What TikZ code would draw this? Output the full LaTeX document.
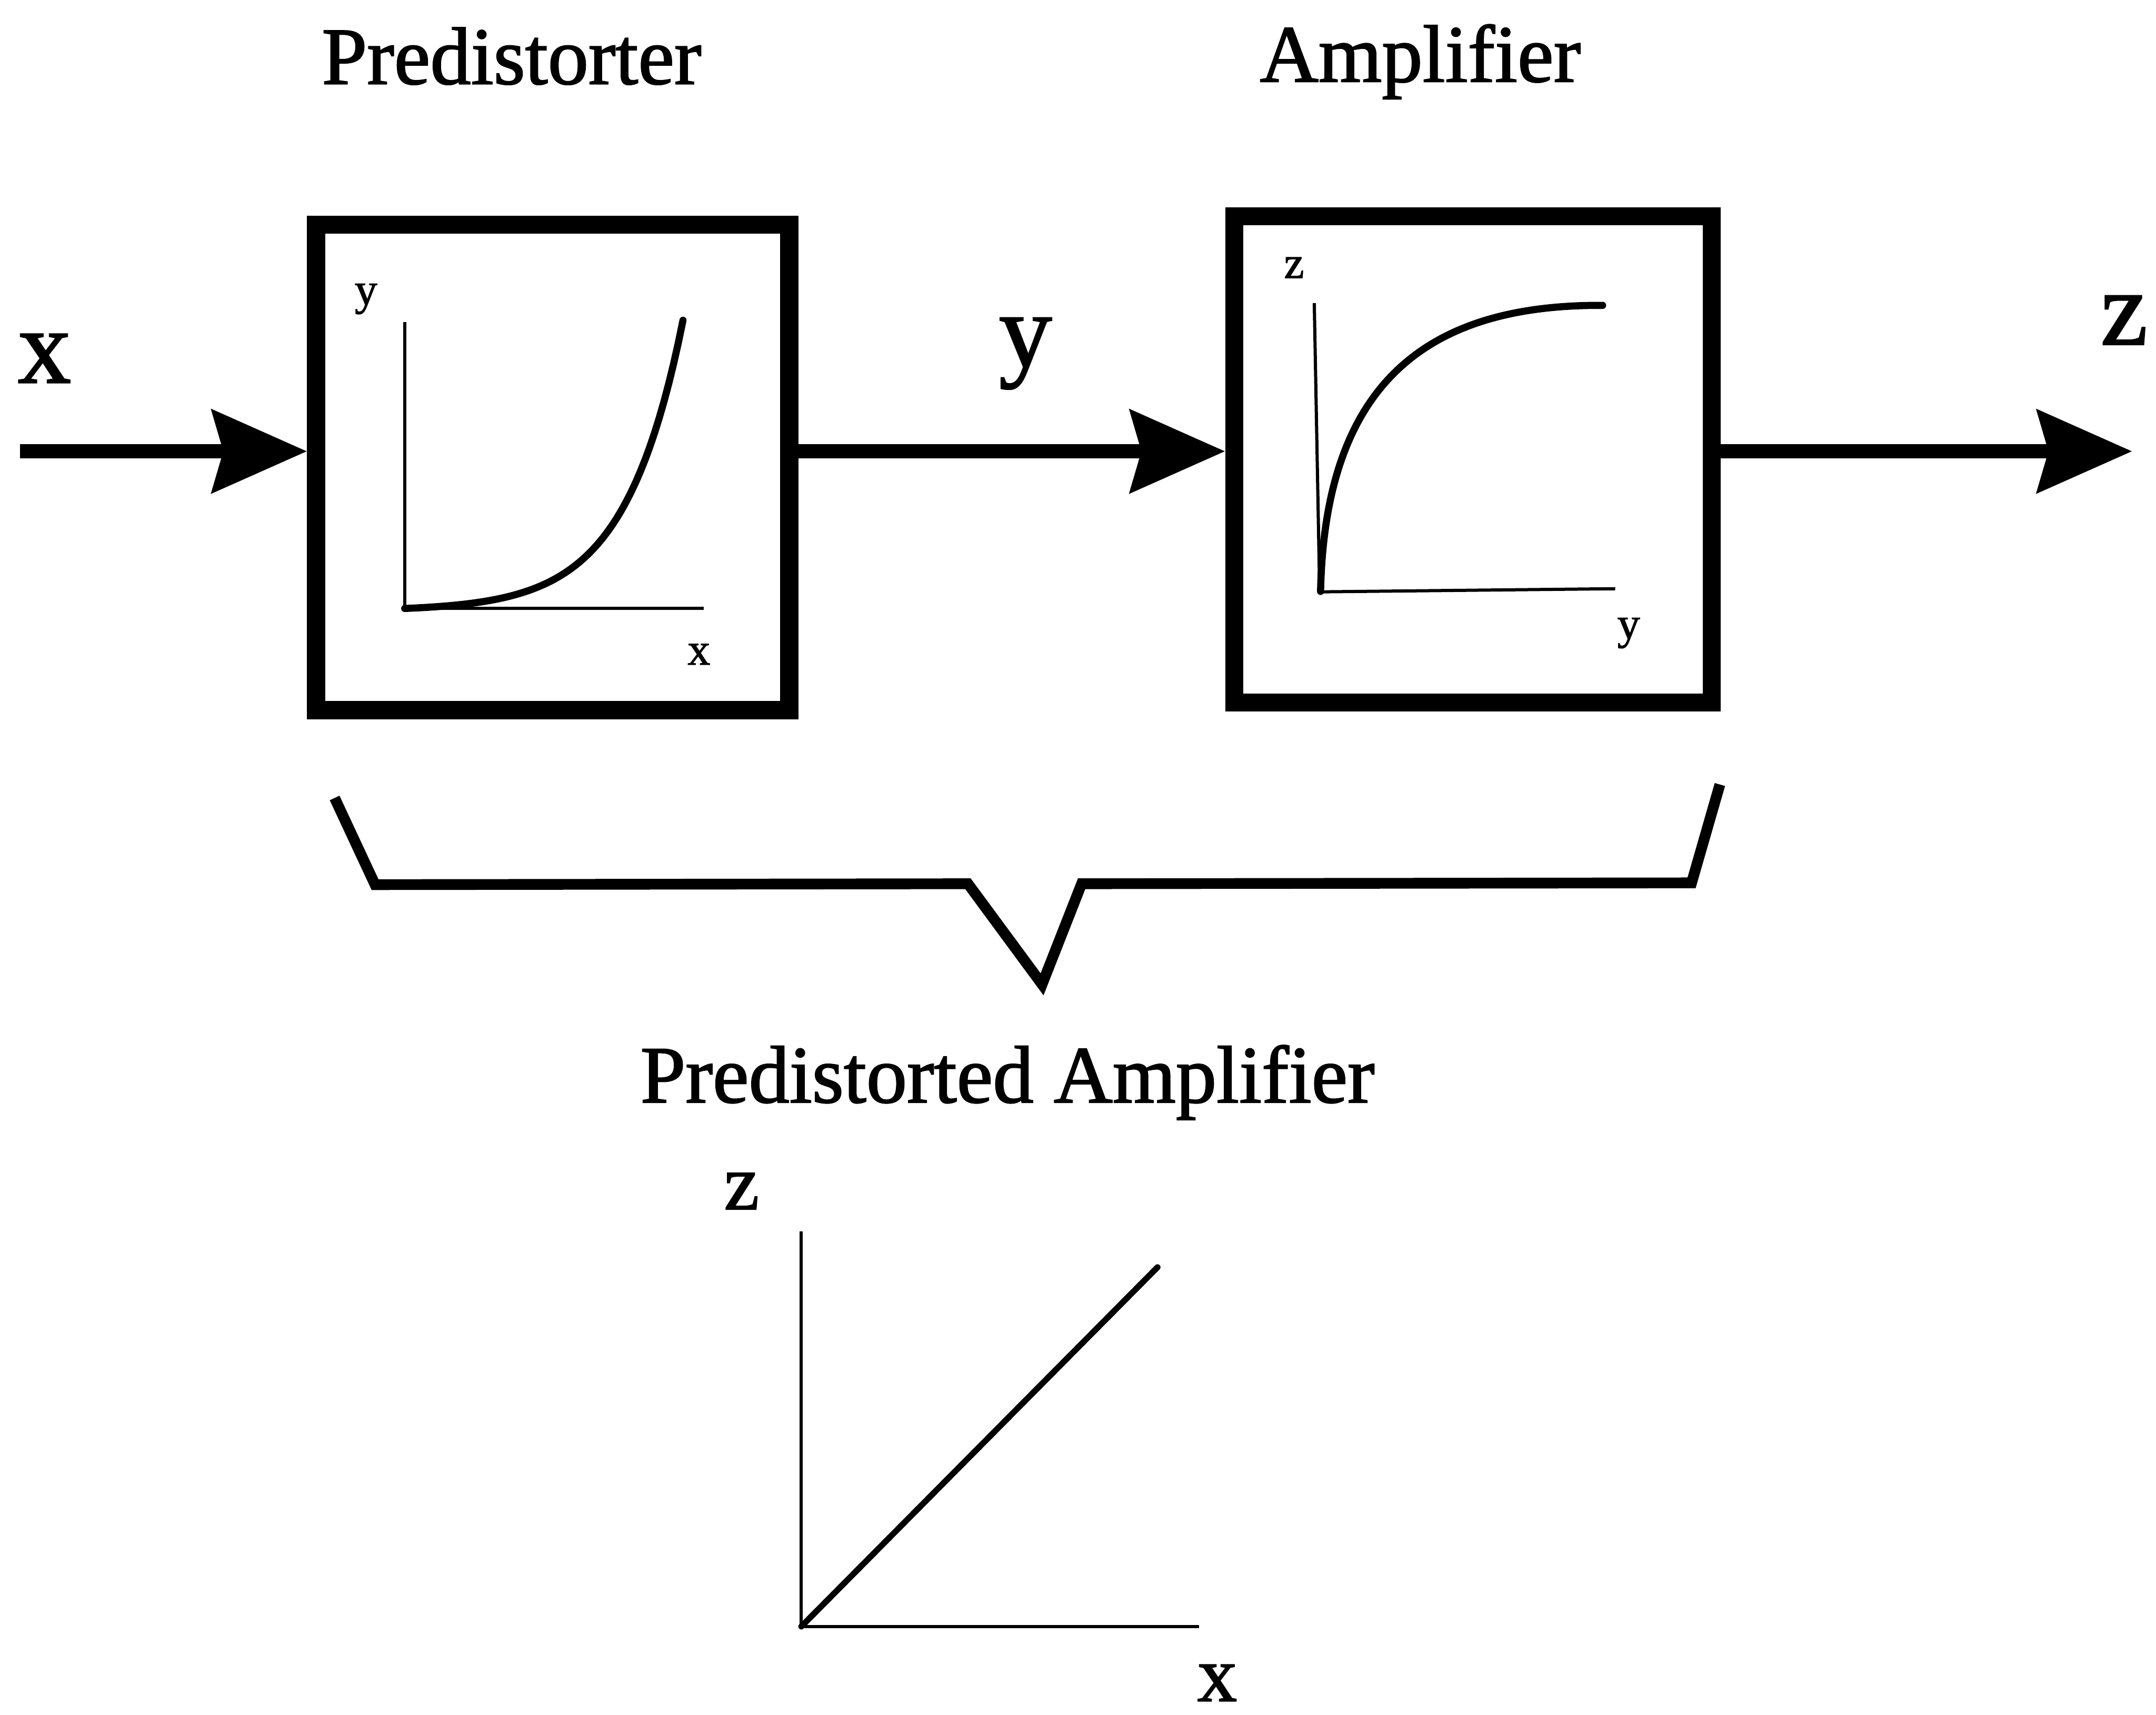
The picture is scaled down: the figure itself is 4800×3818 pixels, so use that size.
\documentclass[tikz,border=0pt]{standalone}
\usepackage{fontspec}
\setmainfont{Liberation Serif}[BoldFont={Liberation Serif}, BoldFeatures={FakeBold=1.5}]
\usetikzlibrary{arrows.meta}
\begin{document}
\begin{tikzpicture}[x=0.01cm,y=-0.01cm,
  blockbox/.style={draw, rectangle, line width=11.4pt, inner sep=0pt},
  sig/.style={line width=9.1pt, -{Stealth[length=60pt,width=52pt,inset=7pt]}},
  axisline/.style={line width=2pt},
  curveline/.style={line width=4.5pt, line cap=round, line join=round},
  bracket/.style={line width=6.8pt, line join=miter},
  titletext/.style={font=\fontsize{51.5}{60}\selectfont\bfseries, inner sep=0pt, anchor=base},
  bigletter/.style={font=\fontsize{67}{80}\selectfont\bfseries, inner sep=0pt, anchor=base},
  midletter/.style={font=\fontsize{50}{60}\selectfont\bfseries, inner sep=0pt, anchor=base},
  smallletter/.style={font=\fontsize{28.5}{34}\selectfont\bfseries, inner sep=0pt, anchor=base}]
\useasboundingbox (0,0) rectangle (4800,3818);

% titles
\node[titletext] (tpre) at (1139,187) {Predistorter};
\node[titletext] (tamp) at (3162,182) {Amplifier};
\node[titletext] (tpa) at (2243,2455) {Predistorted Amplifier};

% blocks
\node[blockbox, minimum width=10.53cm, minimum height=10.80cm] (box1) at (1230.5,1041) {};
\node[blockbox, minimum width=10.63cm, minimum height=10.82cm] (box2) at (3279.5,1023) {};

% signal arrows
\coordinate (xin) at (44,1005);
\coordinate (zout) at (4747,1005);
\draw[sig] (xin) -- (xin -| box1.west);
\draw[sig] (box1.east |- xin) -- (xin -| box2.west);
\draw[sig] (box2.east |- zout) -- (zout);

% signal labels
\node[bigletter] (lx) at (99,852) {x};
\node[bigletter] (ly) at (2283,816) {y};
\node[bigletter] (lz) at (4729,767) {z};

% predistorter characteristic
\draw[axisline] (901,717) -- (901,1355) -- (1567,1355);
\draw[curveline] plot[domain=0:1, samples=60] ({901+620*\x},{1355-5.344*(exp(4.8*\x)-1)});
\node[smallletter] (p1y) at (815,678) {y};
\node[smallletter] (p1x) at (1556,1480) {x};

% amplifier characteristic
\draw[axisline] (2926,675) -- (2938,1318) -- (3596,1311);
\draw[curveline] (2940,1317) .. controls (2950,850) and (3180,678) .. (3568,680);
\node[smallletter] (p2z) at (2881,619) {z};
\node[smallletter] (p2y) at (3626,1422) {y};

% brace
\draw[bracket] (745,1777) -- (835,1970) -- (2155,1968) -- (2320,2192) -- (2408,1968) -- (3766,1966) -- (3829,1747);

% overall characteristic
\draw[axisline] (1784,2742) -- (1784,3622) -- (2669,3622);
\draw[line width=3.8pt, line cap=round] (1784,3622) -- (2577,2822);
\node[midletter] (p3z) at (1651,2693) {z};
\node[midletter] (p3x) at (2710,3788) {x};
\end{tikzpicture}
\end{document}
